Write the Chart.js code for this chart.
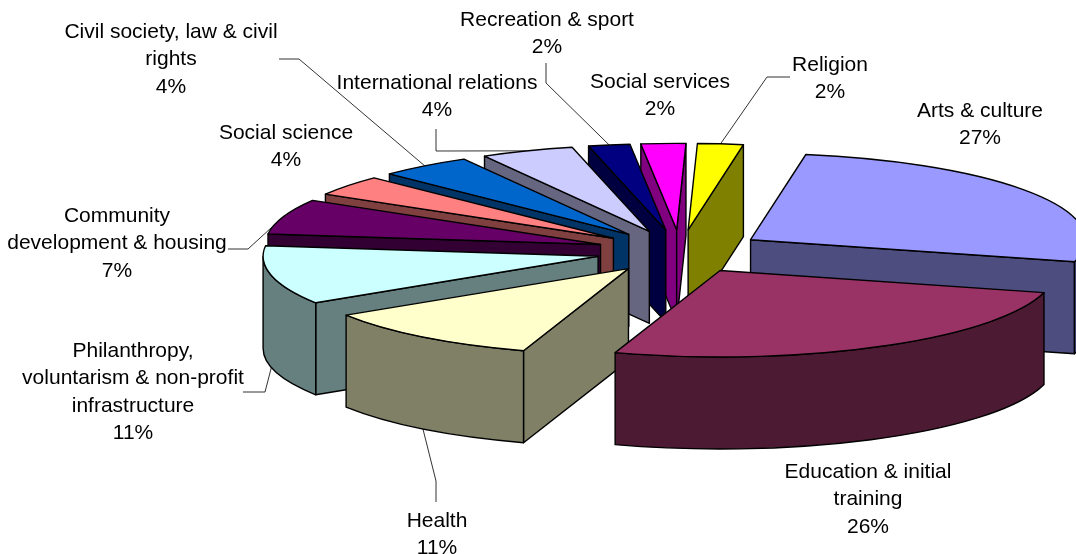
<!DOCTYPE html>
<html>
<head>
<meta charset="utf-8">
<title>Pie</title>
<script src="https://cdn.jsdelivr.net/npm/chart.js@4/dist/chart.umd.min.js"></script>
<style>
  html, body { margin: 0; padding: 0; background: #fff; }
  canvas { display: block; }
</style>
</head>
<body>
<canvas id="pie" width="1076" height="554"></canvas>
<script>
// Slices, clockwise from the top right
const categories = [
    ['Arts & culture'],
    ['Education & initial', 'training'],
    ['Health'],
    ['Philanthropy,', 'voluntarism & non-profit', 'infrastructure'],
    ['Community', 'development & housing'],
    ['Social science'],
    ['Civil society, law & civil', 'rights'],
    ['International relations'],
    ['Recreation & sport'],
    ['Social services'],
    ['Religion']
];
const shares = [26.5, 26, 10.9, 11, 6.6, 3.8, 4.49, 4.49, 2, 2.15, 2.2];
const shareLabels = ['27%', '26%', '11%', '11%', '7%', '4%', '4%', '4%', '2%', '2%', '2%'];
const colors = ['#9999FF', '#993366', '#FFFFCC', '#CCFFFF', '#660066', '#FF8080', '#0066CC', '#CCCCFF', '#000080', '#FF00FF', '#FFFF00'];

// Where each label sits (centre x, middle of first line)
const labelX = [980, 868, 437, 133, 117, 286, 171, 437, 547, 660, 830];
const labelY = [111, 472, 521, 351, 216, 133, 32, 83, 20, 82, 65];
// Leader lines, from the label side; the last point comes from the slice itself
const leaderBends = [
    null, null,
    [[436, 502], [436, 481]],
    [[243, 392], [265, 392]],
    [[228, 249], [248, 249]],
    null,
    [[279, 59], [299, 59]],
    [[436, 129], [436, 151]],
    [[546, 63], [546, 83]],
    null,
    [[790, 77], [767, 77]]
];

const TILT = 0.258;
const DEPTH = 92;
const FONT = '21px "Liberation Sans", Arial, sans-serif';
const LINE_H = 27.4;

function darken(hex) {
    const n = parseInt(hex.slice(1), 16);
    const half = (v) => Math.round(v / 2);
    return `rgb(${half(n >> 16)},${half((n >> 8) & 255)},${half(n & 255)})`;
}

// Centre of a slice's point after it is pulled out of the pie
function apexOf(arc) {
    const mid = (arc.startAngle + arc.endAngle) / 2;
    return {
        x: arc.x + Math.cos(mid) * arc.options.offset,
        y: arc.y + Math.sin(mid) * arc.options.offset * TILT
    };
}

function paint(ctx, fill) {
    ctx.fillStyle = fill;
    ctx.fill();
    ctx.stroke();
}

function drawSlice(ctx, arc) {
    const a = apexOf(arc);
    const r = arc.outerRadius;
    const s = arc.startAngle, e = arc.endAngle;
    const top = arc.options.backgroundColor;
    const wall = darken(top);

    // cut faces, only when they look towards the viewer
    [[s, Math.cos(s) < 0], [e, Math.cos(e) > 0]].forEach(([ang, visible]) => {
        if (!visible) return;
        const x = a.x + Math.cos(ang) * r;
        const y = a.y + Math.sin(ang) * r * TILT;
        ctx.beginPath();
        ctx.moveTo(a.x, a.y);
        ctx.lineTo(x, y);
        ctx.lineTo(x, y + DEPTH);
        ctx.lineTo(a.x, a.y + DEPTH);
        ctx.closePath();
        paint(ctx, wall);
    });

    // outer rim, front half only
    const from = Math.max(s, 0), to = Math.min(e, Math.PI);
    if (to > from) {
        ctx.beginPath();
        ctx.ellipse(a.x, a.y, r, r * TILT, 0, from, to);
        ctx.ellipse(a.x, a.y + DEPTH, r, r * TILT, 0, to, from, true);
        ctx.closePath();
        paint(ctx, wall);
    }

    ctx.beginPath();
    ctx.moveTo(a.x, a.y);
    ctx.ellipse(a.x, a.y, r, r * TILT, 0, s, e);
    ctx.closePath();
    paint(ctx, top);
}

const pie3d = {
    id: 'pie3d',
    beforeDatasetsDraw(chart) {
        const ctx = chart.ctx;
        const arcs = chart.getDatasetMeta(0).data;

        ctx.save();

        // leader lines, under the slices so they stop at the rim
        ctx.lineWidth = 1;
        ctx.strokeStyle = '#333';
        arcs.forEach((arc, i) => {
            if (!leaderBends[i]) return;
            const a = apexOf(arc);
            const mid = (arc.startAngle + arc.endAngle) / 2;
            const x = a.x + Math.cos(mid) * arc.outerRadius;
            const y = a.y + Math.sin(mid) * arc.outerRadius * TILT + (Math.sin(mid) > 0 ? DEPTH : 0);
            ctx.beginPath();
            leaderBends[i].forEach(([px, py], j) => (j ? ctx.lineTo(px, py) : ctx.moveTo(px, py)));
            ctx.lineTo(x, y);
            ctx.stroke();
        });

        ctx.lineWidth = 1.4;
        ctx.strokeStyle = '#000';
        ctx.lineJoin = 'round';
        const sinMid = (arc) => Math.sin((arc.startAngle + arc.endAngle) / 2);
        [...arcs].sort((p, q) => sinMid(p) - sinMid(q)).forEach((arc) => drawSlice(ctx, arc));

        // labels
        ctx.fillStyle = '#000';
        ctx.font = FONT;
        ctx.textAlign = 'center';
        ctx.textBaseline = 'middle';
        categories.forEach((lines, i) => {
            [...lines, shareLabels[i]].forEach((text, j) => {
                ctx.fillText(text, labelX[i], labelY[i] + j * LINE_H);
            });
        });
        ctx.restore();
        return false;
    }
};

new Chart(document.getElementById('pie'), {
    type: 'pie',
    data: {
        labels: categories,
        datasets: [{
            data: shares,
            backgroundColor: colors,
            borderWidth: 0,
            offset: 84
        }]
    },
    options: {
        responsive: false,
        animation: false,
        radius: 335,
        rotation: 9.5,
        layout: { padding: { left: 284, bottom: 51 } },
        plugins: {
            legend: { display: false },
            tooltip: { enabled: false }
        }
    },
    plugins: [pie3d]
});
</script>
</body>
</html>
